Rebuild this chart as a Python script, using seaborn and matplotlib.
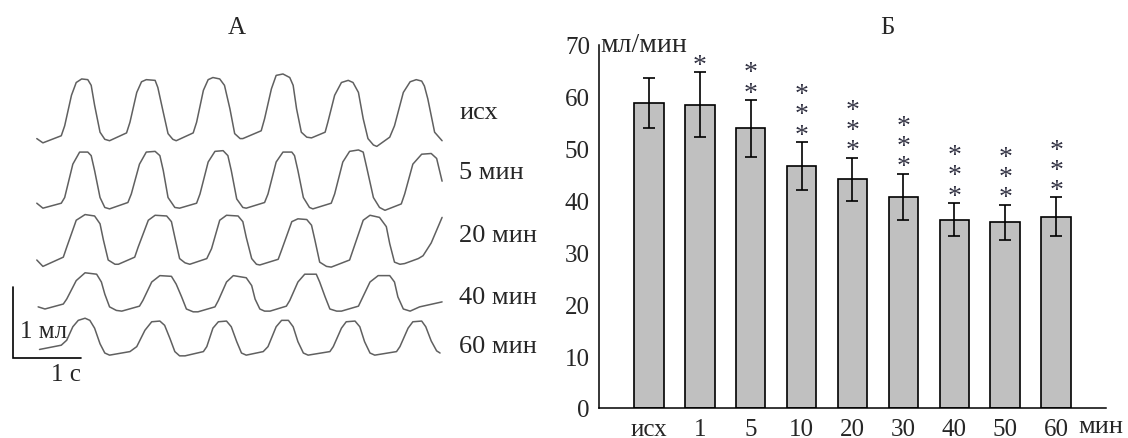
import matplotlib.pyplot as plt
import pandas as pd
import seaborn as sns

# --- panel A: spirogram traces ---
# time from start of the trace (s) and volume above end-expiration level (ml)
ish_t = [0.00, 0.09, 0.36, 0.41, 0.51, 0.58, 0.66, 0.75, 0.80, 0.85, 0.93, 1.00,
         1.07, 1.32, 1.37, 1.47, 1.54, 1.61, 1.74, 1.78, 1.86, 1.93, 2.00,
         2.05, 2.30, 2.35, 2.45, 2.52, 2.59, 2.69, 2.76, 2.84, 2.91, 2.99,
         3.03, 3.30, 3.35, 3.45, 3.52, 3.62, 3.72, 3.77, 3.82, 3.89, 3.97,
         4.04, 4.24, 4.28, 4.38, 4.48, 4.58, 4.65, 4.73, 4.80, 4.87, 4.95,
         5.00, 5.19, 5.26, 5.39, 5.49, 5.58, 5.66, 5.70, 5.75, 5.85, 5.96]
ish_v = [0.06, 0.00, 0.10, 0.24, 0.67, 0.85, 0.90, 0.89, 0.81, 0.53, 0.15, 0.05,
         0.03, 0.14, 0.29, 0.71, 0.86, 0.89, 0.88, 0.78, 0.43, 0.13, 0.05,
         0.03, 0.14, 0.29, 0.74, 0.89, 0.92, 0.90, 0.81, 0.48, 0.13, 0.06,
         0.06, 0.17, 0.34, 0.76, 0.95, 0.97, 0.92, 0.81, 0.48, 0.15, 0.08,
         0.07, 0.15, 0.29, 0.67, 0.85, 0.88, 0.85, 0.71, 0.34, 0.06, -0.03,
         -0.05, 0.08, 0.24, 0.71, 0.86, 0.89, 0.87, 0.80, 0.62, 0.15, 0.03]

min5_t = [0.00, 0.09, 0.36, 0.41, 0.53, 0.63, 0.75, 0.80, 0.85, 0.93, 1.00,
          1.07, 1.34, 1.39, 1.51, 1.61, 1.74, 1.81, 1.86, 1.93, 2.03,
          2.10, 2.35, 2.40, 2.52, 2.62, 2.74, 2.81, 2.86, 2.94, 3.03,
          3.08, 3.35, 3.40, 3.52, 3.62, 3.75, 3.79, 3.84, 3.92, 4.01,
          4.06, 4.33, 4.38, 4.50, 4.60, 4.73, 4.80, 4.85, 4.95, 5.04,
          5.12, 5.36, 5.41, 5.53, 5.66, 5.80, 5.88, 5.96]
min5_v = [0.07, 0.00, 0.07, 0.15, 0.62, 0.79, 0.79, 0.74, 0.53, 0.15, 0.01,
          -0.01, 0.08, 0.20, 0.62, 0.79, 0.80, 0.74, 0.53, 0.15, 0.01,
          0.00, 0.07, 0.20, 0.65, 0.80, 0.81, 0.74, 0.53, 0.13, 0.01,
          0.00, 0.08, 0.20, 0.65, 0.79, 0.79, 0.74, 0.53, 0.15, 0.01,
          -0.01, 0.07, 0.20, 0.65, 0.80, 0.82, 0.79, 0.58, 0.15, 0.01,
          -0.03, 0.06, 0.20, 0.62, 0.76, 0.77, 0.70, 0.38]

min20_t = [0.00, 0.09, 0.39, 0.44, 0.58, 0.71, 0.85, 0.93, 0.98, 1.05, 1.15,
           1.20, 1.44, 1.49, 1.64, 1.74, 1.91, 1.98, 2.03, 2.10, 2.18,
           2.25, 2.50, 2.57, 2.69, 2.79, 2.96, 3.03, 3.08, 3.16, 3.23,
           3.28, 3.55, 3.60, 3.75, 3.84, 3.97, 4.04, 4.09, 4.16, 4.26,
           4.33, 4.60, 4.65, 4.80, 4.90, 5.04, 5.14, 5.19, 5.26, 5.34,
           5.41, 5.61, 5.68, 5.80, 5.96]
min20_v = [0.06, -0.03, 0.10, 0.24, 0.62, 0.70, 0.68, 0.57, 0.34, 0.06, 0.00,
           0.00, 0.10, 0.24, 0.62, 0.69, 0.68, 0.60, 0.38, 0.08, 0.02,
           0.00, 0.08, 0.22, 0.62, 0.69, 0.68, 0.60, 0.38, 0.08, 0.00,
           -0.01, 0.07, 0.20, 0.60, 0.64, 0.63, 0.55, 0.34, 0.03, -0.03,
           -0.04, 0.06, 0.20, 0.62, 0.69, 0.66, 0.53, 0.29, 0.03, 0.00,
           0.01, 0.08, 0.12, 0.30, 0.66]

min40_t = [0.02, 0.12, 0.39, 0.44, 0.58, 0.71, 0.88, 0.95, 1.00, 1.07, 1.17,
           1.25, 1.51, 1.56, 1.69, 1.81, 1.98, 2.05, 2.13, 2.20, 2.30,
           2.37, 2.62, 2.67, 2.79, 2.89, 3.08, 3.16, 3.21, 3.28, 3.35,
           3.43, 3.67, 3.72, 3.84, 3.94, 4.11, 4.16, 4.24, 4.31, 4.41,
           4.48, 4.73, 4.77, 4.90, 5.02, 5.19, 5.26, 5.31, 5.39, 5.49,
           5.63, 5.96]
min40_v = [0.06, 0.03, 0.10, 0.17, 0.43, 0.54, 0.52, 0.41, 0.24, 0.06, 0.01,
           0.00, 0.07, 0.15, 0.41, 0.50, 0.49, 0.38, 0.20, 0.03, -0.01,
           -0.01, 0.06, 0.15, 0.41, 0.50, 0.47, 0.36, 0.17, 0.03, 0.00,
           0.00, 0.07, 0.15, 0.41, 0.52, 0.52, 0.41, 0.20, 0.03, 0.00,
           0.00, 0.07, 0.15, 0.41, 0.50, 0.50, 0.41, 0.20, 0.03, 0.00,
           0.06, 0.13]

min60_t = [0.04, 0.36, 0.44, 0.53, 0.61, 0.71, 0.78, 0.85, 0.93, 1.00,
           1.07, 1.37, 1.47, 1.59, 1.69, 1.81, 1.88, 1.96, 2.03,
           2.10, 2.18, 2.45, 2.50, 2.59, 2.67, 2.79, 2.86, 2.94, 3.01,
           3.08, 3.33, 3.40, 3.52, 3.60, 3.70, 3.77, 3.84, 3.92,
           3.99, 4.31, 4.36, 4.48, 4.55, 4.68, 4.75, 4.82, 4.90,
           4.97, 5.29, 5.34, 5.46, 5.53, 5.66, 5.72, 5.80, 5.88, 5.93]
min60_v = [0.08, 0.14, 0.21, 0.40, 0.49, 0.52, 0.49, 0.38, 0.16, 0.03,
           0.00, 0.05, 0.12, 0.35, 0.47, 0.48, 0.42, 0.23, 0.05,
           -0.01, -0.01, 0.05, 0.12, 0.38, 0.47, 0.48, 0.40, 0.19, 0.03,
           0.00, 0.05, 0.12, 0.40, 0.49, 0.49, 0.40, 0.19, 0.03,
           0.00, 0.05, 0.12, 0.38, 0.47, 0.48, 0.40, 0.19, 0.03,
           0.00, 0.05, 0.12, 0.38, 0.47, 0.48, 0.40, 0.20, 0.06, 0.03]

trace_names = ["исх", "5 мин", "20 мин", "40 мин", "60 мин"]

# --- panel B: minute ventilation ---
groups = ["исх", "1", "5", "10", "20", "30", "40", "50", "60"]
vent_mean = [58.8, 58.5, 53.9, 46.7, 44.1, 40.7, 36.3, 35.8, 36.9]
vent_err = [4.8, 6.3, 5.5, 4.6, 4.2, 4.5, 3.2, 3.4, 3.7]
n_stars = [0, 1, 2, 3, 3, 3, 3, 3, 3]


def draw_traces(ax):
    traces = [(ish_t, ish_v), (min5_t, min5_v), (min20_t, min20_v),
              (min40_t, min40_v), (min60_t, min60_v)]
    # vertical placement of each record (ml above the scale bar)
    offsets = [3.03, 2.11, 1.32, 0.66, 0.04]
    label_y = [3.46, 2.62, 1.73, 0.86, 0.17]
    for (t, v), off, name, ly in zip(traces, offsets, trace_names, label_y):
        df = pd.DataFrame({"t": [x + 0.35 for x in t], "v": [y + off for y in v]})
        sns.lineplot(data=df, x="t", y="v", ax=ax, color="#606060", lw=1.1,
                     estimator=None, sort=False)
        ax.text(6.56, ly, name, fontsize=19, ha="left", va="center")

    # scale bar: 1 ml x 1 s
    ax.plot([0, 0, 1], [1, 0, 0], color="black", lw=1.2, solid_joinstyle="miter")
    ax.text(0.1, 0.38, "1 мл", fontsize=18, ha="left", va="center")
    ax.text(1.0, -0.23, "1 с", fontsize=18, ha="right", va="center")

    ax.set_xlim(-0.191, 8.044)
    ax.set_ylim(-1.127, 5.056)
    ax.axis("off")


def draw_bars(ax):
    df = pd.DataFrame({"group": groups, "value": vent_mean})
    sns.barplot(data=df, x="group", y="value", ax=ax, color="#c0c0c0",
                edgecolor="black", linewidth=1.2, width=0.58, errorbar=None,
                saturation=1)
    x = list(range(len(groups)))
    ax.errorbar(x, vent_mean, yerr=vent_err, fmt="none", ecolor="black",
                elinewidth=1.2, capsize=4.6, capthick=1.2)

    # significance marks stacked above each error bar
    for i, n in enumerate(n_stars):
        if n == 0:
            continue
        top = vent_mean[i] + vent_err[i]
        ax.annotate("\n".join(["*"] * n), xy=(i, top), xytext=(0, -4.0),
                    textcoords="offset points", ha="center", va="bottom",
                    fontsize=20, linespacing=0.75, color="#333344")

    ax.set_xlim(-0.98, 8.98)
    ax.set_ylim(0, 70)
    ax.set_yticks(range(0, 71, 10))
    ax.set_xlabel("")
    ax.set_ylabel("")
    sns.despine(ax=ax)
    for side in ("left", "bottom"):
        ax.spines[side].set_linewidth(1.1)
        ax.spines[side].set_color("black")
    ax.tick_params(axis="both", labelsize=18, length=3.5, width=1.1,
                   color="black")
    ax.tick_params(axis="y", pad=3)
    ax.tick_params(axis="x", pad=3.5)
    ax.text(0.003, 1.0, "мл/мин", transform=ax.transAxes, fontsize=20,
            ha="left", va="center")
    ax.text(8.43, -0.05, "мин", transform=ax.get_xaxis_transform(),
            fontsize=19, ha="left", va="center")


def main():
    sns.set_style("white")
    plt.rcParams["font.family"] = ["Liberation Serif", "DejaVu Serif"]

    fig = plt.figure(figsize=(11.28, 4.39), dpi=100)
    ax_a = fig.add_axes([0, 0, 560 / 1128, 1])
    ax_b = fig.add_axes([599 / 1128, 30 / 439, 507 / 1128, 363 / 439])

    draw_traces(ax_a)
    draw_bars(ax_b)

    fig.text(237 / 1128, 1 - 28 / 439, "А", fontsize=18, ha="center", va="center")
    fig.text(887 / 1128, 1 - 28 / 439, "Б", fontsize=18, ha="center", va="center")

    fig.savefig("out.png", dpi=100, facecolor="white")


if __name__ == "__main__":
    main()
